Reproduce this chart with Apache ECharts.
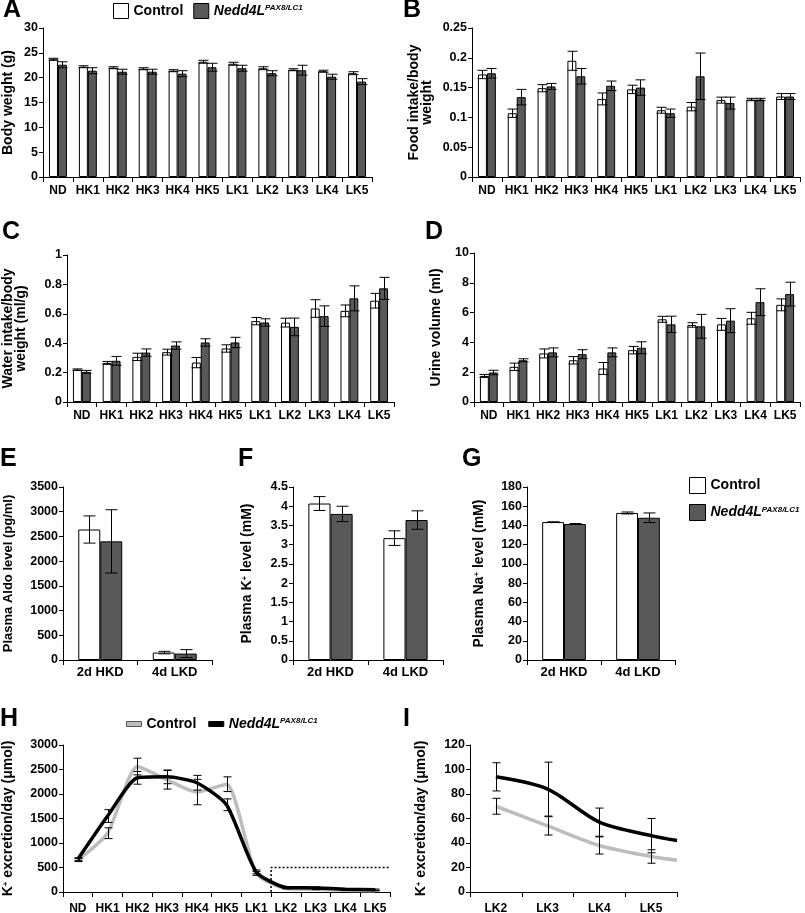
<!DOCTYPE html>
<html><head><meta charset="utf-8">
<script src="https://cdn.jsdelivr.net/npm/echarts@6/dist/echarts.min.js"></script>
<style>html,body{margin:0;padding:0;background:#fff}#c{width:805px;height:913px}</style>
</head><body><div id="c"></div>
<script>
// ---------- categories ----------
const days = ['ND','HK1','HK2','HK3','HK4','HK5','LK1','LK2','LK3','LK4','LK5'];
const diets = ['2d HKD','4d LKD'];
const lkDays = ['LK2','LK3','LK4','LK5'];

// ---------- A: body weight (g) ----------
const bwCtrl    = [23.7, 22.2, 22.0, 21.8, 21.4, 23.2, 22.8, 21.9, 21.6, 21.3, 20.9];
const bwCtrlErr = [0.2, 0.2, 0.2, 0.2, 0.2, 0.3, 0.3, 0.3, 0.2, 0.2, 0.3];
const bwKO      = [22.6, 21.4, 21.2, 21.2, 20.8, 22.1, 21.9, 20.9, 21.5, 20.2, 19.2];
const bwKOErr   = [0.6, 0.6, 0.5, 0.5, 0.6, 0.8, 0.6, 0.5, 1.0, 0.5, 0.6];

// ---------- B: food intake / body weight ----------
const fiCtrl    = [0.172, 0.107, 0.149, 0.195, 0.131, 0.147, 0.112, 0.118, 0.129, 0.130, 0.135];
const fiCtrlErr = [0.007, 0.007, 0.006, 0.016, 0.010, 0.007, 0.005, 0.007, 0.005, 0.002, 0.005];
const fiKO      = [0.174, 0.134, 0.152, 0.169, 0.153, 0.150, 0.107, 0.169, 0.124, 0.130, 0.135];
const fiKOErr   = [0.008, 0.013, 0.005, 0.013, 0.008, 0.013, 0.007, 0.039, 0.010, 0.002, 0.005];

// ---------- C: water intake / body weight (ml/g) ----------
const wiCtrl    = [0.220, 0.266, 0.307, 0.339, 0.268, 0.364, 0.550, 0.540, 0.636, 0.620, 0.689];
const wiCtrlErr = [0.005, 0.010, 0.025, 0.020, 0.035, 0.025, 0.025, 0.030, 0.060, 0.040, 0.050];
const wiKO      = [0.205, 0.280, 0.336, 0.384, 0.405, 0.405, 0.541, 0.511, 0.584, 0.705, 0.773];
const wiKOErr   = [0.010, 0.030, 0.025, 0.025, 0.025, 0.035, 0.025, 0.060, 0.070, 0.085, 0.075];

// ---------- D: urine volume (ml) ----------
const uvCtrl    = [1.75, 2.36, 3.26, 2.80, 2.25, 3.48, 5.55, 5.17, 5.21, 5.62, 6.52];
const uvCtrlErr = [0.10, 0.25, 0.30, 0.25, 0.40, 0.25, 0.20, 0.15, 0.40, 0.40, 0.40];
const uvKO      = [1.98, 2.80, 3.33, 3.21, 3.33, 3.64, 5.21, 5.08, 5.46, 6.70, 7.24];
const uvKOErr   = [0.15, 0.10, 0.30, 0.30, 0.30, 0.40, 0.55, 0.80, 0.80, 0.90, 0.80];

// ---------- E: plasma aldo (pg/ml) ----------
const alCtrl = [2640, 150], alCtrlErr = [275, 25];
const alKO   = [2400, 130], alKOErr   = [640, 80];

// ---------- F: plasma K+ (mM) ----------
const kCtrl = [4.07, 3.17], kCtrlErr = [0.18, 0.19];
const kKO   = [3.80, 3.64], kKOErr   = [0.20, 0.24];

// ---------- G: plasma Na+ (mM) ----------
const naCtrl = [143.5, 153.0], naCtrlErr = [0.3, 1.0];
const naKO   = [141.5, 148.0], naKOErr   = [0.5, 5.0];

// ---------- H: K+ excretion/day (umol) ----------
const hCtrl    = [650, 1200, 2560, 2290, 2040, 2200, 380, 70, 55, 38, 28];
const hCtrlErr = [30, 110, 170, 190, 260, 150, 40, 6, 8, 7, 5];
const hKO      = [670, 1550, 2330, 2350, 2230, 1780, 410, 94, 84, 57, 46];
const hKOErr   = [30, 130, 130, 140, 150, 120, 40, 12, 22, 11, 14];
const hZoomLevel = 500;

// ---------- I: K+ excretion/day, LK2-LK5 (umol) ----------
const iCtrl    = [70, 54, 38, 29];
const iCtrlErr = [6.5, 7.5, 7, 5.5];
const iCtrlEnd = 26;
const iKO      = [94, 84, 57, 46];
const iKOErr   = [11.5, 22, 11.5, 14];
const iKOEnd   = 42;

// ---------- chart ----------
const FONT = '"Liberation Sans", Arial, Helvetica, sans-serif';
const KO_COLOR = '#595959';
const chart = echarts.init(document.getElementById('c'), null, {renderer:'canvas'});

const grids = [
  {left:43,  top:28,  width:329, height:149}, // A
  {left:472, top:28,  width:328, height:149}, // B
  {left:67,  top:255, width:327, height:147}, // C
  {left:474, top:253, width:326, height:149}, // D
  {left:63,  top:487, width:149, height:173}, // E
  {left:293, top:487, width:150, height:173}, // F
  {left:527, top:487, width:148, height:173}, // G
  {left:63,  top:745, width:327, height:147}, // H
  {left:470, top:745, width:207, height:147}  // I
].map(g => Object.assign(g, {outerBoundsMode:'none', containLabel:false}));

const supRich = {sup:{fontSize:8, fontWeight:'bold', fontFamily:FONT, verticalAlign:'top', color:'#000'}};

function catAxis(grid, data, margin, fs) {
  return {
    type:'category', gridIndex:grid, data:data, boundaryGap:true,
    axisLine:{show:true, lineStyle:{color:'#000', width:1}},
    axisTick:{show:true, length:5, lineStyle:{color:'#000'}},
    axisLabel:{interval:0, margin:margin, color:'#000', fontWeight:'bold', fontSize:fs||12, fontFamily:FONT}
  };
}
function valAxis(grid, min, max, interval, name, gap, nfs) {
  return {
    type:'value', gridIndex:grid, min:min, max:max, interval:interval,
    name:name, nameLocation:'middle', nameGap:gap, nameMoveOverlap:false,
    nameTextStyle:{fontWeight:'bold', fontSize:nfs||14, fontFamily:FONT, color:'#000', lineHeight:13, rich:supRich},
    axisLine:{show:true, lineStyle:{color:'#000', width:1}},
    axisTick:{show:true, length:4, lineStyle:{color:'#000'}},
    splitLine:{show:false},
    axisLabel:{margin:5, color:'#000', fontWeight:'bold', fontSize:12.5, fontFamily:FONT,
      showMaxLabel:true, showMinLabel:true,
      formatter:function(v){ return String(+(+v).toFixed(4)); }}
  };
}

function errSeries(xi, yi, xs, vals, errs, offsetFrac, capHalf) {
  return {
    type:'custom', xAxisIndex:xi, yAxisIndex:yi, z:10, silent:true,
    renderItem:function(params, api){
      const x = api.value(0), v = api.value(1), e = api.value(2);
      const top = api.coord([x, v + e]);
      const bot = api.coord([x, v - e]);
      const bw = offsetFrac ? api.size([1, 0])[0] : 0;
      const cx = Math.round(top[0] + offsetFrac * bw) + 0.5;
      const st = {stroke:'#000', lineWidth:1};
      return {type:'group', children:[
        {type:'line', shape:{x1:cx, y1:top[1], x2:cx, y2:bot[1]}, style:st},
        {type:'line', shape:{x1:cx-capHalf, y1:top[1], x2:cx+capHalf, y2:top[1]}, style:st},
        {type:'line', shape:{x1:cx-capHalf, y1:bot[1], x2:cx+capHalf, y2:bot[1]}, style:st}
      ]};
    },
    data: vals.map((v, i) => [xs ? xs[i] : i, v, errs[i]])
  };
}

function barPanel(idx, ctrl, ctrlErr, ko, koErr, gapPct, cap) {
  const off = (1 - gapPct/100) / 4;
  return [
    {type:'bar', name:'Control', xAxisIndex:idx, yAxisIndex:idx, data:ctrl,
     barGap:'0%', barCategoryGap:gapPct + '%',
     itemStyle:{color:'#fff', borderColor:'#000', borderWidth:1}},
    {type:'bar', name:'Nedd4L', xAxisIndex:idx, yAxisIndex:idx, data:ko,
     barGap:'0%', barCategoryGap:gapPct + '%',
     itemStyle:{color:KO_COLOR, borderColor:'#000', borderWidth:1}},
    errSeries(idx, idx, null, ctrl, ctrlErr, -off, cap),
    errSeries(idx, idx, null, ko, koErr, off, cap)
  ];
}

const xAxes = [
  catAxis(0, days, 8), catAxis(1, days, 8), catAxis(2, days, 8), catAxis(3, days, 8),
  catAxis(4, diets, 6, 13), catAxis(5, diets, 6, 13), catAxis(6, diets, 6, 13),
  catAxis(7, days, 11), catAxis(8, lkDays, 11),
  {type:'value', gridIndex:7, min:0, max:22, show:false},
  {type:'value', gridIndex:8, min:0, max:8, show:false}
];
const yAxes = [
  valAxis(0, 0, 30, 5, 'Body weight (g)', 28),
  valAxis(1, 0, 0.25, 0.05, 'Food intake/body\nweight', 38),
  valAxis(2, 0, 1, 0.2, 'Water intake/body\nweight (ml/g)', 39),
  valAxis(3, 0, 10, 2, 'Urine volume (ml)', 31),
  valAxis(4, 0, 3500, 500, 'Plasma Aldo level (pg/ml)', 48, 13),
  valAxis(5, 0, 4.5, 0.5, 'Plasma K{sup|+} level (mM)', 39),
  valAxis(6, 0, 180, 20, 'Plasma Na{sup|+} level (mM)', 41),
  valAxis(7, 0, 3000, 500, 'K{sup|+} excretion/day (\u03bcmol)', 48),
  valAxis(8, 0, 120, 20, 'K{sup|+} excretion/day (\u03bcmol)', 42)
];

const lkIdx = lkDays.map((d, i) => 2 * i + 1);
const lkBoundary = 2 * days.indexOf('LK1') + 2;

const series = [].concat(
  barPanel(0, bwCtrl, bwCtrlErr, bwKO, bwKOErr, 40, 5),
  barPanel(1, fiCtrl, fiCtrlErr, fiKO, fiKOErr, 40, 5),
  barPanel(2, wiCtrl, wiCtrlErr, wiKO, wiKOErr, 40, 5),
  barPanel(3, uvCtrl, uvCtrlErr, uvKO, uvKOErr, 40, 5),
  barPanel(4, alCtrl, alCtrlErr, alKO, alKOErr, 41, 6),
  barPanel(5, kCtrl, kCtrlErr, kKO, kKOErr, 41, 6),
  barPanel(6, naCtrl, naCtrlErr, naKO, naKOErr, 41, 6),
  [
    {type:'line', name:'H-Control', xAxisIndex:7, yAxisIndex:7, data:hCtrl, smooth:0.2,
     symbol:'none', lineStyle:{color:'#bdbdbd', width:3.5}, itemStyle:{color:'#bdbdbd'}, z:3},
    {type:'line', name:'H-Nedd4L', xAxisIndex:7, yAxisIndex:7, data:hKO, smooth:0.2,
     symbol:'none', lineStyle:{color:'#000', width:3.5}, itemStyle:{color:'#000'}, z:4},
    errSeries(7, 7, null, hCtrl, hCtrlErr, 0, 4),
    errSeries(7, 7, null, hKO, hKOErr, 0, 4),
    {type:'line', xAxisIndex:9, yAxisIndex:7, symbol:'none', silent:true,
     data:[[lkBoundary, 0], [lkBoundary, hZoomLevel], [22, hZoomLevel]],
     lineStyle:{color:'#000', width:1.5, type:[2, 2]}, z:2},
    {type:'line', name:'I-Control', xAxisIndex:10, yAxisIndex:8, smooth:0.3, symbol:'none',
     data: iCtrl.map((v, i) => [lkIdx[i], v]).concat([[8, iCtrlEnd]]),
     lineStyle:{color:'#bdbdbd', width:3.5}, z:3},
    {type:'line', name:'I-Nedd4L', xAxisIndex:10, yAxisIndex:8, smooth:0.3, symbol:'none',
     data: iKO.map((v, i) => [lkIdx[i], v]).concat([[8, iKOEnd]]),
     lineStyle:{color:'#000', width:3.5}, z:4},
    errSeries(10, 8, lkIdx, iCtrl, iCtrlErr, 0, 4),
    errSeries(10, 8, lkIdx, iKO, iKOErr, 0, 4)
  ]
);

const legendText = {
  color:'#000', fontWeight:'bold', fontSize:14, fontFamily:FONT,
  rich:{
    it:{fontStyle:'italic', fontWeight:'bold', fontSize:14, fontFamily:FONT, color:'#000'},
    sup:{fontStyle:'italic', fontWeight:'bold', fontSize:8, fontFamily:FONT, color:'#000', verticalAlign:'top'}
  }
};
function legFmt(name) {
  return name.indexOf('Nedd4L') >= 0 ? '{it|Nedd4L}{sup|PAX8/LC1}' : 'Control';
}

const letters = [['A',3,3],['B',403,3],['C',2,225],['D',425,225],['E',0,452],['F',238,452],['G',462,452],['H',0,712],['I',403,712]];

chart.setOption({
  animation:false,
  backgroundColor:'#fff',
  textStyle:{fontFamily:FONT, color:'#000'},
  title: letters.map(l => ({text:l[0], left:l[1], top:l[2]-5, padding:0,
    textStyle:{fontSize:25, fontWeight:'bold', fontFamily:FONT, color:'#000'}})),
  legend:[
    {data:['Control','Nedd4L'], left:113, top:3, icon:'rect', itemWidth:15, itemHeight:15, itemGap:10,
     padding:0, selectedMode:false, formatter:legFmt, textStyle:legendText,
     itemStyle:{borderColor:'#000', borderWidth:1}},
    {data:['Control','Nedd4L'], left:689, top:477, orient:'vertical', icon:'rect', itemWidth:16, itemHeight:16,
     itemGap:10, padding:0, selectedMode:false, formatter:legFmt, textStyle:legendText,
     itemStyle:{borderColor:'#000', borderWidth:1}},
    {data:[{name:'H-Control', itemStyle:{color:'#bdbdbd', borderColor:'#555', borderWidth:1}},
           {name:'H-Nedd4L', itemStyle:{color:'#000', borderColor:'#000', borderWidth:1}}],
     left:126, top:717, icon:'rect', itemWidth:15, itemHeight:5, itemGap:12, padding:0,
     selectedMode:false, formatter:legFmt, textStyle:legendText}
  ],
  grid:grids,
  xAxis:xAxes,
  yAxis:yAxes,
  series:series
});
</script>
</body></html>
